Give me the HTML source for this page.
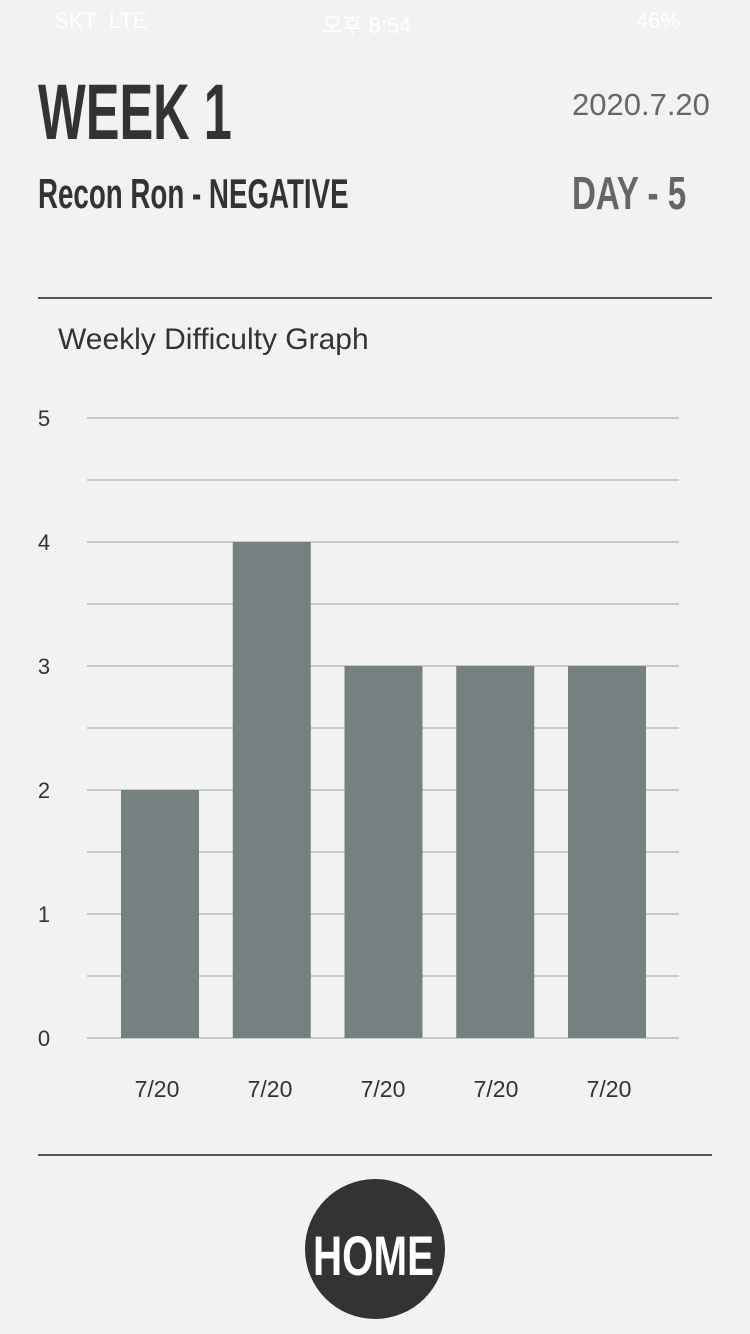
<!DOCTYPE html>
<html><head><meta charset="utf-8"><style>
body{margin:0;width:750px;height:1334px;background:#f2f2f2;position:relative;overflow:hidden;font-family:"Liberation Sans","Noto Sans CJK KR",sans-serif}
.abs{position:absolute;white-space:nowrap}
.cond{font-weight:bold;transform-origin:0 0;color:#333}
</style></head><body>
<div class="abs" style="left:0;top:0;width:750px;height:40px;color:#fff;font-size:22px">
 <span class="abs" style="left:54px;top:8px">SKT&nbsp;&nbsp;LTE</span>
 <span class="abs" style="left:322px;top:8px">오후 8:54</span>
 <span class="abs" style="left:636px;top:8px">46%</span>
</div>
<div class="abs cond" style="left:38px;top:66px;font-size:79px;transform:scaleX(0.64)">WEEK 1</div>
<div class="abs" style="left:572px;top:87px;font-size:31px;color:#666">2020.7.20</div>
<div class="abs cond" style="left:38px;top:170px;font-size:42px;transform:scaleX(0.66)">Recon Ron - NEGATIVE</div>
<div class="abs cond" style="left:572px;top:166px;font-size:46px;color:#666;transform:scaleX(0.72)">DAY - 5</div>
<div class="abs" style="left:38px;top:297px;width:674px;height:2px;background:#555"></div>
<div class="abs" style="left:58px;top:323px;font-size:30px;color:#333">Weekly Difficulty Graph</div>
<svg class="abs" style="left:0;top:0" width="750" height="1334">
<g id="g"></g></svg>
<div class="abs" style="left:38px;top:1154px;width:674px;height:2px;background:#555"></div>
<div class="abs" style="left:305px;top:1179px;width:140px;height:140px;border-radius:50%;background:#333">
 <div class="abs" style="left:8px;top:44px;font-size:56px;font-weight:bold;color:#fff;transform:scaleX(0.72);transform-origin:0 0">HOME</div>
</div>
<script>
const categories=["7/20","7/20","7/20","7/20","7/20"];
const values=[2,4,3,3,3];
const yTicks=[0,1,2,3,4,5];
const g=document.getElementById('g');
const NS='http://www.w3.org/2000/svg';
const y=v=>1038-v*124;
const x=i=>160+i*111.75;
const xl=i=>157+i*113;
function mk(t,a){const e=document.createElementNS(NS,t);for(const k in a)e.setAttribute(k,a[k]);g.appendChild(e);return e;}
for(let v=0;v<=5;v+=0.5){
 const l=mk('line',{x1:87,x2:679,y1:y(v),y2:y(v),stroke:'#bbb','stroke-width':1.5});
 
 
}
yTicks.forEach(v=>{const t=mk('text',{x:44,y:y(v)+8,'text-anchor':'middle','font-size':22,fill:'#333'});t.textContent=v;
 
 });
values.forEach((v,i)=>{
 const r=mk('rect',{x:x(i)-39,y:y(v),width:78,height:y(0)-y(v),fill:'#768080'});
 
 
 const t=mk('text',{x:xl(i),y:1097,'text-anchor':'middle','font-size':23,fill:'#333'});t.textContent=categories[i];
 
 
});
</script>
</body></html>
